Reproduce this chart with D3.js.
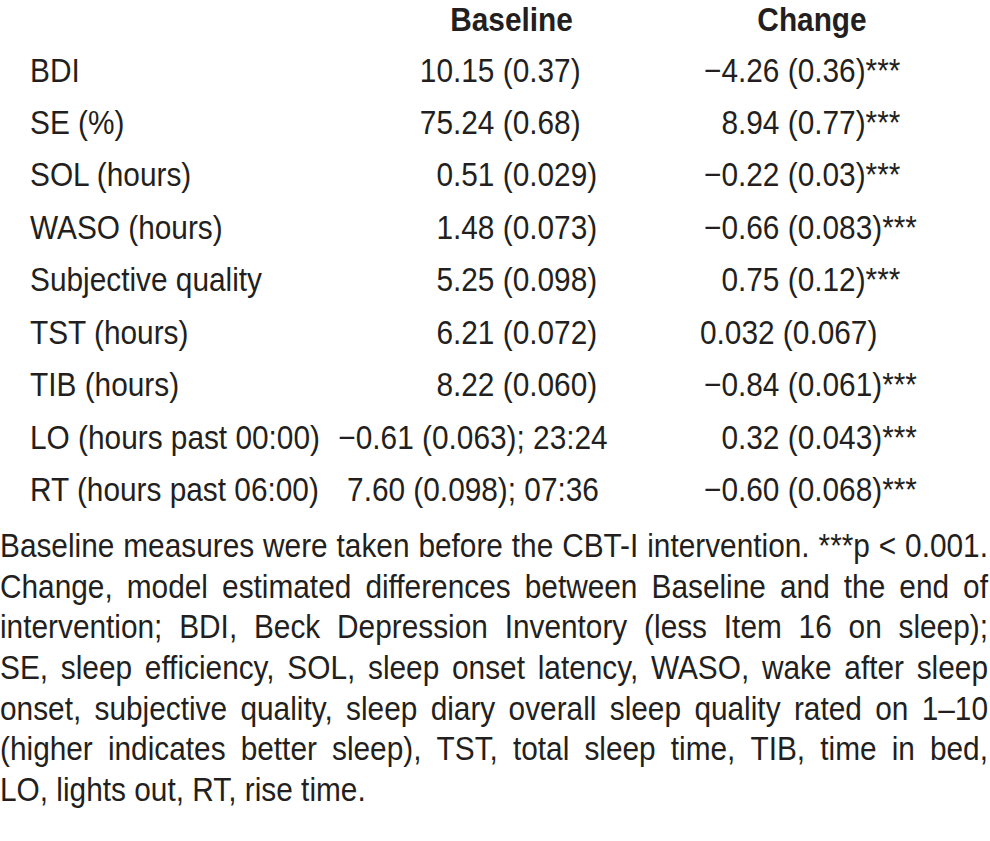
<!DOCTYPE html>
<html>
<head>
<meta charset="utf-8">
<script src="https://cdn.jsdelivr.net/npm/d3@7"></script>
<style>
  html, body { margin: 0; padding: 0; background: #ffffff; }
  svg { display: block; }
</style>
</head>
<body>
<div id="chart"></div>
<script>
// ---------- data ----------
const headers = ["Baseline", "Change"];
const measures = [
  "BDI", "SE (%)", "SOL (hours)", "WASO (hours)", "Subjective quality",
  "TST (hours)", "TIB (hours)", "LO (hours past 00:00)", "RT (hours past 06:00)"
];
const baselineValues = [
  "10.15 (0.37)", "75.24 (0.68)", "0.51 (0.029)", "1.48 (0.073)", "5.25 (0.098)",
  "6.21 (0.072)", "8.22 (0.060)", "\u22120.61 (0.063); 23:24", "7.60 (0.098); 07:36"
];
const changeValues = [
  "\u22124.26 (0.36)***", "8.94 (0.77)***", "\u22120.22 (0.03)***", "\u22120.66 (0.083)***",
  "0.75 (0.12)***", "0.032 (0.067)", "\u22120.84 (0.061)***", "0.32 (0.043)***", "\u22120.60 (0.068)***"
];
const footnoteLines = [
  "Baseline measures were taken before the CBT-I intervention. ***p < 0.001.",
  "Change, model estimated differences between Baseline and the end of",
  "intervention; BDI, Beck Depression Inventory (less Item 16 on sleep);",
  "SE, sleep efficiency, SOL, sleep onset latency, WASO, wake after sleep",
  "onset, subjective quality, sleep diary overall sleep quality rated on 1\u201310",
  "(higher indicates better sleep), TST, total sleep time, TIB, time in bed,",
  "LO, lights out, RT, rise time."
];

// ---------- layout ----------
const W = 990, H = 841;
const FONT = "'Liberation Sans', Arial, Helvetica, sans-serif";
const FS = 33.5;      // font size
const SX = 0.89;      // horizontal condensation
const INK = "#231f20";

const svg = d3.select("#chart").append("svg")
  .attr("width", W).attr("height", H)
  .attr("viewBox", `0 0 ${W} ${H}`);
svg.append("rect").attr("width", W).attr("height", H).attr("fill", "#fff");

// measuring helper
const meas = svg.append("text")
  .attr("font-family", FONT).attr("font-size", FS)
  .attr("visibility", "hidden");
function textWidth(s, weight) {
  meas.attr("font-weight", weight || "normal").text(s);
  return meas.node().getComputedTextLength() * SX;
}

function put(g, x, y, s, opts) {
  opts = opts || {};
  return g.append("text")
    .attr("transform", `translate(${x},${y}) scale(${SX},1)`)
    .attr("font-family", FONT)
    .attr("font-size", FS)
    .attr("font-weight", opts.weight || "normal")
    .attr("text-anchor", opts.anchor || "start")
    .attr("fill", INK)
    .style("white-space", "pre")
    .text(s);
}

// scales
const y = d3.scalePoint().domain(measures).range([81.5, 501]);
const colX = d3.scalePoint().domain(headers).range([511.5, 812]);

const table = svg.append("g").attr("class", "table");

// headers
headers.forEach(h => put(table, colX(h), 31, h, { weight: "bold", anchor: "middle" }));

// row labels
const labelX = 30;
measures.forEach(m => put(table, labelX, y(m), m));

// baseline column: decimal aligned; clock-time cells centred
const baseDec = 453, baseCentre = 473;
measures.forEach((m, i) => {
  const s = baselineValues[i];
  if (s.includes(";")) {
    put(table, baseCentre, y(m), s, { anchor: "middle" });
  } else {
    const pre = s.slice(0, s.indexOf("."));
    put(table, baseDec - textWidth(pre), y(m), s);
  }
});

// change column: decimal aligned; non-significant cell left-set
const chDec = 738, chLeft = 700;
measures.forEach((m, i) => {
  const s = changeValues[i];
  if (!s.includes("*")) {
    put(table, chLeft, y(m), s);
  } else {
    const pre = s.slice(0, s.indexOf("."));
    put(table, chDec - textWidth(pre), y(m), s);
  }
});

// ---------- footnote (justified) ----------
const foot = svg.append("g").attr("class", "footnote");
const fy = d3.scalePoint().domain(d3.range(footnoteLines.length)).range([557, 801]);
const left = 0, right = 988;
footnoteLines.forEach((line, li) => {
  const words = line.split(" ");
  const last = li === footnoteLines.length - 1;
  const widths = words.map(w => textWidth(w));
  const total = d3.sum(widths);
  const space = textWidth("a a") - textWidth("aa");
  const gap = last ? space : (right - left - total) / (words.length - 1);
  let x = left;
  words.forEach((w, wi) => {
    put(foot, x, fy(li), w);
    x += widths[wi] + gap;
  });
});
meas.remove();
</script>
</body>
</html>
